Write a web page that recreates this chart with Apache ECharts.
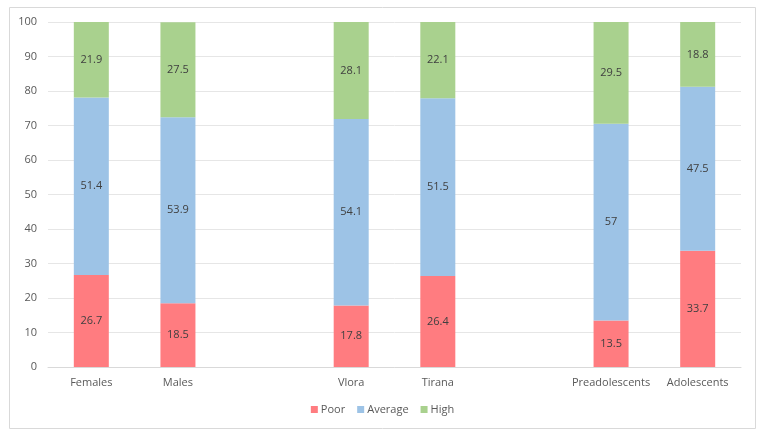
<!DOCTYPE html>
<html>
<head>
<meta charset="utf-8">
<script src="https://cdn.jsdelivr.net/npm/echarts@6/dist/echarts.min.js"></script>
<style>
  html, body { margin: 0; padding: 0; background: #fff; }
  #chart { width: 765px; height: 439px; }
</style>
</head>
<body>
<div id="chart"></div>
<script>
// empty strings leave gaps between the three groups
const categories = ['Females', 'Males', '', 'Vlora', 'Tirana', '', 'Preadolescents', 'Adolescents']
const poor = [26.7, 18.5, null, 17.8, 26.4, null, 13.5, 33.7]
const average = [51.4, 53.9, null, 54.1, 51.5, null, 57, 47.5]
const high = [21.9, 27.5, null, 28.1, 22.1, null, 29.5, 18.8]
const yTicks = [0, 10, 20, 30, 40, 50, 60, 70, 80, 90, 100]

const chart = echarts.init(document.getElementById('chart'))

const makeSeries = (name, data, color) => ({
  name,
  type: 'bar',
  stack: 'total',
  data,
  barWidth: 35,
  itemStyle: { color },
  label: {
    show: true,
    position: 'inside',
    color: '#404040',
    fontSize: 11,
    fontFamily: 'Open Sans'
  }
})

chart.setOption({
  animation: false,
  textStyle: { fontFamily: 'Open Sans' },
  graphic: [{
    type: 'rect',
    shape: { x: 9.5, y: 7.5, width: 746, height: 421 },
    style: { fill: 'none', stroke: '#d9d9d9', lineWidth: 1 },
    silent: true
  }],
  grid: { left: 48, right: 24, top: 22, bottom: 72 },
  legend: {
    bottom: 19,
    left: 'center',
    itemWidth: 7,
    itemHeight: 7,
    itemGap: 12,
    icon: 'rect',
    textStyle: { color: '#595959', fontSize: 11, padding: [0, 0, 0, -2] }
  },
  xAxis: {
    type: 'category',
    data: categories,
    axisLine: { lineStyle: { color: '#d9d9d9' } },
    axisTick: { show: false },
    axisLabel: { color: '#595959', fontSize: 11, margin: 10, interval: 0 }
  },
  yAxis: {
    type: 'value',
    min: yTicks[0],
    max: yTicks[yTicks.length - 1],
    interval: 10,
    axisLine: { show: false },
    axisTick: { show: false },
    axisLabel: { color: '#595959', fontSize: 11, margin: 11 },
    splitLine: { lineStyle: { color: '#e6e6e6' } }
  },
  series: [
    makeSeries('Poor', poor, '#ff7c80'),
    makeSeries('Average', average, '#9dc3e6'),
    makeSeries('High', high, '#a9d18e')
  ]
})
</script>
</body>
</html>
